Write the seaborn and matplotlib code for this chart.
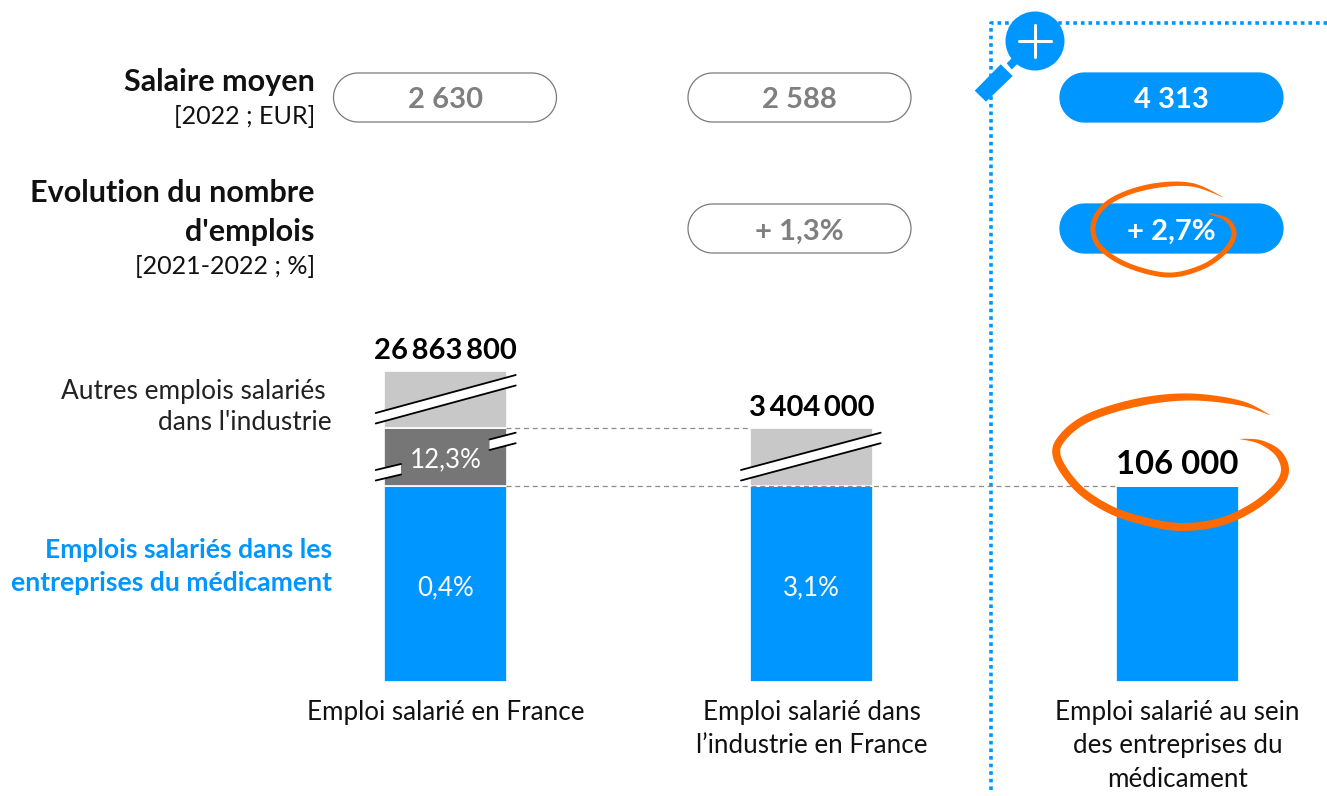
import numpy as np
import pandas as pd
import matplotlib
matplotlib.use("Agg")
import matplotlib.pyplot as plt
from matplotlib.patches import Circle, Polygon
import seaborn as sns

W, H = 1327, 796

# bar data (the broken bars are schematic, heights as drawn)
categories = ["Emploi salarié en France",
              "Emploi salarié dans\nl’industrie en France",
              "Emploi salarié au sein\ndes entreprises du\nmédicament"]
medicament = [196, 196, 196]
industrie = [58, 0, 0]
autres = [57, 58, 0]
totals = ["26\u2009863\u2009800", "3\u2009404\u2009000", "106 000"]
medicament_labels = ["0,4%", "3,1%", ""]
industrie_labels = ["12,3%", "", ""]

salaires = ["2 630", "2 588", "4 313"]
evolutions = ["", "+ 1,3%", "+ 2,7%"]

BLUE = "#0096FF"
DARK = "#767676"
LIGHT = "#C8C8C8"
GREY_TXT = "#7F7F7F"
ORANGE = "#FF6A00"

sns.set_theme(style="white")
plt.rcParams["font.family"] = ["Lato", "DejaVu Sans"]

FS = 18.7
FS_SUB = 18.1
FS_BOLD = 22
FS_PILL = 21
FS_BLUE = 19.1
FS_TOTAL = [21, 21, 23.6]

fig = plt.figure(figsize=(W / 100, H / 100), dpi=100)

# overlay in pixel coordinates for the annotation layer
ov = fig.add_axes([0, 0, 1, 1], zorder=3)
ov.set_xlim(0, W)
ov.set_ylim(H, 0)
ov.axis("off")
ov.patch.set_alpha(0)

# bars: category 0 centred at px 445.5, spacing 366 px, baseline at px 682
x0, x1 = 372.3, 1250.7
y_base, y_top = 682, 340
ax = fig.add_axes([x0 / W, 1 - y_base / H, (x1 - x0) / W, (y_base - y_top) / H], zorder=2)
ax.patch.set_alpha(0)

df = pd.DataFrame({"cat": categories, "medicament": medicament,
                   "industrie": industrie, "autres": autres})
bw = 122.5 / 366
sns.barplot(data=df, x="cat", y="medicament", color=BLUE, saturation=1, width=bw,
            edgecolor="white", linewidth=1.2, ax=ax)
sns.barplot(data=df, x="cat", y="industrie", bottom=df["medicament"], color=DARK, saturation=1,
            width=bw, edgecolor="white", linewidth=1.2, ax=ax)
sns.barplot(data=df, x="cat", y="autres", bottom=df["medicament"] + df["industrie"], color=LIGHT,
            saturation=1, width=bw, edgecolor="white", linewidth=1.2, ax=ax)
ax.set_xlim(-0.2, 2.2)
ax.set_ylim(0, y_base - y_top)
ax.set_xlabel("")
ax.set_ylabel("")
ax.set_yticks([])
sns.despine(ax=ax, left=True, bottom=True)
ax.tick_params(axis="x", length=0, pad=13)
ax.set_xticks(range(3))
ax.set_xticklabels(categories, fontsize=FS, color="#111111", linespacing=1.42, va="top")

tops = df["medicament"] + df["industrie"] + df["autres"]
for i in range(3):
    ax.text(i, tops[i] + 7, totals[i], ha="center", va="bottom", fontsize=FS_TOTAL[i],
            fontweight="bold", color="black")
    if medicament_labels[i]:
        ax.text(i, medicament[i] / 2 - 4, medicament_labels[i], ha="center", va="center",
                fontsize=FS, color="white")
    if industrie_labels[i]:
        ax.text(i, medicament[i] + industrie[i] * 0.4 + 3, industrie_labels[i], ha="center",
                va="center", fontsize=FS, color="white", zorder=6)

# dashed guide lines
ov.plot([506, 751], [428, 428], color="#8C8C8C", lw=0.9, ls=(0, (4, 3)))
ov.plot([506, 1117], [486, 486], color="#8C8C8C", lw=0.9, ls=(0, (4, 3)))


def axis_break(xa, ya, xb, yb, gap=10.5):
    ov.add_patch(Polygon([(xa, ya), (xb, yb), (xb, yb + gap), (xa, ya + gap)],
                         fc="white", ec="none", zorder=4))
    ov.plot([xa, xb], [ya, yb], color="black", lw=1.3, zorder=5)
    ov.plot([xa, xb], [ya + gap, yb + gap], color="black", lw=1.3, zorder=5)


axis_break(375.7, 413, 515.7, 375)
axis_break(741, 470, 880.7, 432.7)
axis_break(375.7, 470, 401, 464)
axis_break(489.5, 439.5, 515.7, 432.7)


def pill(x, y, text, filled):
    w, h = 223, 49
    r = h / 2
    a = np.linspace(-np.pi / 2, np.pi / 2, 40)
    right = np.column_stack([x + w - r + r * np.cos(a), y + r + r * np.sin(a)])
    left = np.column_stack([x + r - r * np.cos(a), y + r - r * np.sin(a)])
    ov.add_patch(Polygon(np.vstack([right, left]), closed=True, fc=BLUE if filled else "white",
                         ec=BLUE if filled else "#7A7A7A", lw=0.9, zorder=2))
    ov.text(x + w / 2, y + h / 2 + 3, text, ha="center", va="center", fontsize=FS_PILL,
            fontweight="bold", color="white" if filled else GREY_TXT, zorder=3)


for x, s in zip([333.5, 688, 1060], salaires):
    pill(x, 73, s, x == 1060)
for x, s in zip([333.5, 688, 1060], evolutions):
    if s:
        pill(x, 204, s, x == 1060)

# row labels on the left
ov.text(315, 82, "Salaire moyen", ha="right", va="center", fontsize=FS_BOLD, fontweight="bold", color="#111111")
ov.text(315, 117, "[2022 ; EUR]", ha="right", va="center", fontsize=FS_SUB, color="#111111")
ov.text(315, 193, "Evolution du nombre", ha="right", va="center", fontsize=FS_BOLD, fontweight="bold", color="#111111")
ov.text(315, 232, "d'emplois", ha="right", va="center", fontsize=FS_BOLD, fontweight="bold", color="#111111")
ov.text(315, 267, "[2021-2022 ; %]", ha="right", va="center", fontsize=FS_SUB, color="#111111")
ov.text(326, 391, "Autres emplois salariés", ha="right", va="center", fontsize=FS_SUB + 0.8, color="#222222")
ov.text(332, 423, "dans l'industrie", ha="right", va="center", fontsize=FS_SUB + 0.8, color="#222222")
ov.text(332, 550, "Emplois salariés dans les", ha="right", va="center", fontsize=FS_BLUE, fontweight="bold", color=BLUE)
ov.text(332, 583, "entreprises du médicament", ha="right", va="center", fontsize=FS_BLUE, fontweight="bold", color=BLUE)

# dotted frame around the zoomed column + magnifier
ov.plot([991, 991, W], [790, 23, 23], color=BLUE, lw=2.6, ls=(0, (1, 1.1)),
        dash_capstyle="butt", zorder=1)
ov.add_patch(Circle((1035, 41), 29.5, fc=BLUE, ec="none", zorder=6))
ov.plot([1019, 1051], [41, 41], color="white", lw=2.2, zorder=7)
ov.plot([1035, 1035], [25, 57], color="white", lw=2.2, zorder=7)
ov.add_patch(Polygon([(974.7, 90.7), (1000.7, 64.3), (1012.7, 76), (986, 101.7)], fc=BLUE, ec="none", zorder=6))
ov.add_patch(Polygon([(1006.7, 63.3), (1012, 58), (1017.3, 64), (1011.7, 69.5)], fc=BLUE, ec="none", zorder=6))


def smooth(pts, n=24):
    # Catmull-Rom through the hand-drawn control points
    p = np.vstack([pts[0], pts, pts[-1]])
    out = []
    for i in range(1, len(p) - 2):
        for t in np.linspace(0, 1, n, endpoint=False):
            out.append(0.5 * (2 * p[i] + (p[i + 1] - p[i - 1]) * t
                              + (2 * p[i - 1] - 5 * p[i] + 4 * p[i + 1] - p[i + 2]) * t ** 2
                              + (3 * p[i] - p[i - 1] - 3 * p[i + 1] + p[i + 2]) * t ** 3))
    out.append(p[-2])
    return np.array(out)


def scribble(points, widths):
    line = np.array(points, dtype=float)
    c = smooth(np.column_stack([line, widths]))
    xy, w = c[:, :2], np.clip(c[:, 2], 0.2, None)
    d = np.gradient(xy, axis=0)
    nrm = np.column_stack([-d[:, 1], d[:, 0]]) / np.hypot(d[:, 0], d[:, 1])[:, None]
    poly = np.vstack([xy + nrm * w[:, None] / 2, (xy - nrm * w[:, None] / 2)[::-1]])
    ov.add_patch(Polygon(poly, fc=ORANGE, ec="none", zorder=8))


big = [(1270, 415), (1240, 403), (1190, 397), (1140, 402), (1090, 417), (1063, 437), (1057, 457),
       (1077, 487), (1107, 508), (1140, 520), (1180, 527), (1220, 522), (1253, 507), (1277, 487),
       (1285, 470), (1278, 453), (1260, 442), (1240, 439)]
big_w = [0.3, 5, 7, 8, 8, 8, 8, 8, 8, 8, 8, 8, 8, 8, 8, 7, 4, 0.3]
scribble(big, big_w)

small = [(1223, 197), (1193, 185), (1160, 185), (1127, 193), (1103, 207), (1093, 227), (1100, 247),
         (1127, 265), (1167, 275), (1200, 268), (1223, 253), (1234, 235), (1227, 220), (1207, 213)]
small_w = [0.3, 3.5, 5, 5, 5, 5, 5, 5, 5, 5, 5, 5, 4, 0.3]
scribble(small, small_w)

fig.savefig("out.png", dpi=100, facecolor="white")
